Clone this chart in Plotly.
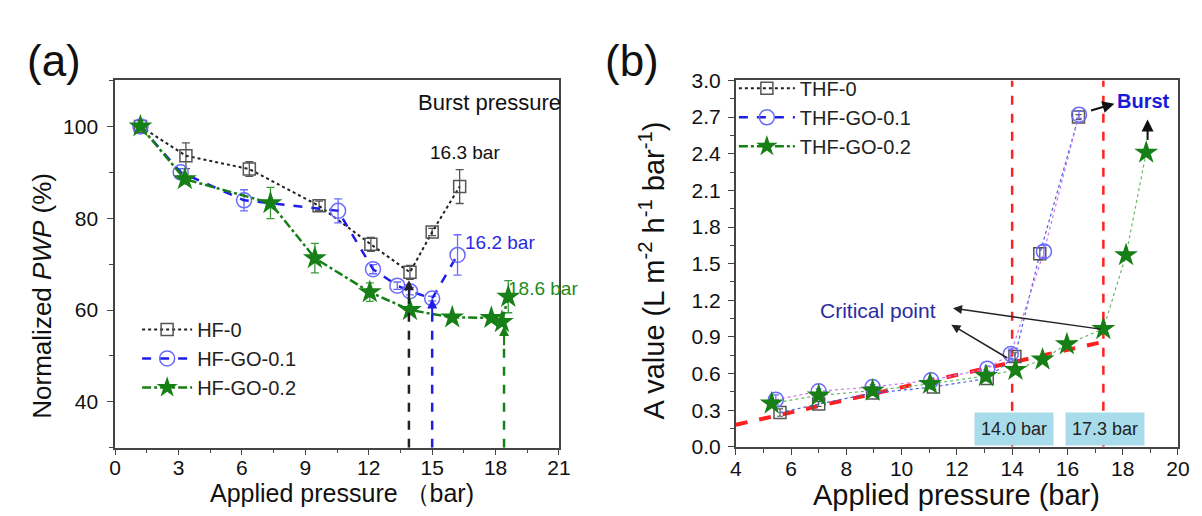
import plotly.graph_objects as go

FONT = "Liberation Sans, Arial, sans-serif"

# ---------------- Panel (a) data ----------------
a_hf0_x = [1.2, 3.35, 6.35, 9.65, 12.1, 13.95, 15.0, 16.3]
a_hf0_y = [100, 93.6, 90.7, 82.7, 74.3, 68.2, 77.0, 86.9]
a_hf0_e = [0, 2.8, 1.6, 1.0, 1.5, 1.5, 0.8, 3.7]

a_go1_x = [1.2, 3.1, 6.1, 10.55, 12.2, 13.35, 13.95, 15.0, 16.2]
a_go1_y = [100, 90.0, 83.9, 81.6, 68.9, 65.3, 64.1, 62.5, 72.0]
a_go1_e = [0, 0.8, 2.3, 2.6, 1.0, 0.8, 0.8, 0.5, 4.4]

a_go2_x = [1.2, 3.3, 7.35, 9.45, 12.05, 13.95, 15.95, 17.8, 18.3, 18.6]
a_go2_y = [100, 88.5, 83.3, 71.3, 63.9, 60.0, 58.4, 58.3, 57.4, 62.9]
a_go2_e = [0, 1.0, 3.4, 3.2, 2.0, 0.5, 0.5, 0.5, 0.5, 3.5]

a_names = ["HF-0", "HF-GO-0.1", "HF-GO-0.2"]
burst_x = [13.9, 15.0, 18.4]           # vertical dashed markers
burst_top = [63, 59, 53]
burst_labels = ["16.3 bar", "16.2 bar", "18.6 bar"]

# ---------------- Panel (b) data ----------------
b_thf0_x = [5.6, 7.0, 8.95, 11.15, 13.1, 14.1, 15.0, 16.4]
b_thf0_y = [0.28, 0.35, 0.44, 0.49, 0.56, 0.74, 1.58, 2.70]
b_thf0_e = [0.03, 0.02, 0.02, 0.02, 0.02, 0.03, 0.05, 0.02]

b_go1_x = [5.45, 7.0, 8.95, 11.07, 13.1, 13.95, 15.15, 16.42]
b_go1_y = [0.385, 0.455, 0.49, 0.545, 0.64, 0.76, 1.60, 2.72]
b_go1_e = [0.04, 0.02, 0.02, 0.02, 0.02, 0.04, 0.05, 0.03]

b_go2_x = [5.3, 7.0, 8.95, 11.03, 13.05, 14.12, 15.1, 15.98, 17.3, 18.12, 18.85]
b_go2_y = [0.355, 0.42, 0.46, 0.515, 0.58, 0.63, 0.715, 0.84, 0.965, 1.57, 2.41]

b_names = ["THF-0", "THF-GO-0.1", "THF-GO-0.2"]
fit_x = [4.0, 17.3]
fit_y = [0.18, 0.86]
crit_x = [14.0, 17.3]
crit_labels = ["14.0 bar", "17.3 bar"]

BLACK = "#222222"
GRAY = "#555555"
BLUE = "#1e1ee6"
LBLUE = "#6a6aff"
GREEN = "#168016"

fig = go.Figure()

# ---- panel (a) traces ----
fig.add_trace(go.Scatter(
    x=a_hf0_x, y=a_hf0_y, name=a_names[0], xaxis="x", yaxis="y",
    mode="lines+markers", legend="legend", legendgroup="a0",
    line=dict(color=BLACK, dash="dot", width=2),
    marker=dict(symbol="square-open", size=12, color=GRAY, line=dict(width=1.5)),
    error_y=dict(type="data", array=a_hf0_e, color=GRAY, thickness=1.3, width=4)))
fig.add_trace(go.Scatter(
    x=a_go1_x, y=a_go1_y, name=a_names[1], xaxis="x", yaxis="y",
    mode="lines+markers", legend="legend", legendgroup="a1",
    line=dict(color=BLUE, dash="dash", width=2.5),
    marker=dict(symbol="circle-open", size=15, color=LBLUE, line=dict(width=1.5)),
    error_y=dict(type="data", array=a_go1_e, color=LBLUE, thickness=1.3, width=4)))
fig.add_trace(go.Scatter(
    x=a_go2_x, y=a_go2_y, name=a_names[2], xaxis="x", yaxis="y",
    mode="lines+markers", legend="legend", legendgroup="a2",
    line=dict(color=GREEN, dash="dashdot", width=2.5),
    marker=dict(symbol="star", size=18, color=GREEN, line=dict(width=0)),
    error_y=dict(type="data", array=a_go2_e, color="#3a9a3a", thickness=1.3, width=4)))

# burst dashed vertical lines (a)
for bx, bt, col in zip(burst_x, burst_top, [BLACK, BLUE, GREEN]):
    fig.add_trace(go.Scatter(x=[bx, bx], y=[30, bt], xaxis="x", yaxis="y",
                             mode="lines", showlegend=False, hoverinfo="skip",
                             line=dict(color=col, dash="dash", width=2.5)))

# ---- panel (b) traces ----
fig.add_trace(go.Scatter(
    x=fit_x, y=fit_y, xaxis="x2", yaxis="y2", mode="lines", showlegend=False,
    line=dict(color="#ff1f1f", dash="dash", width=4)))
for cx in crit_x:
    fig.add_trace(go.Scatter(x=[cx, cx], y=[0, 3.0], xaxis="x2", yaxis="y2",
                             mode="lines", showlegend=False, hoverinfo="skip",
                             line=dict(color="#ff2020", dash="dash", width=2.5)))

fig.add_trace(go.Scatter(
    x=b_thf0_x, y=b_thf0_y, xaxis="x2", yaxis="y2", mode="lines+markers", showlegend=False,
    line=dict(color="#4a5ee0", dash="dot", width=1.2),
    marker=dict(symbol="square-open", size=12, color=GRAY, line=dict(width=1.5)),
    error_y=dict(type="data", array=b_thf0_e, color=GRAY, thickness=1.2, width=3)))
fig.add_trace(go.Scatter(
    x=b_go1_x, y=b_go1_y, xaxis="x2", yaxis="y2", mode="lines+markers", showlegend=False,
    line=dict(color="#cc77ee", dash="dot", width=1.2),
    marker=dict(symbol="circle-open", size=15, color=LBLUE, line=dict(width=1.5)),
    error_y=dict(type="data", array=b_go1_e, color=LBLUE, thickness=1.2, width=3)))
fig.add_trace(go.Scatter(
    x=b_go2_x, y=b_go2_y, xaxis="x2", yaxis="y2", mode="lines+markers", showlegend=False,
    line=dict(color="#66bb66", dash="dot", width=1.2),
    marker=dict(symbol="star", size=18, color=GREEN, line=dict(width=0))))

# legend-only entries for (b)
leg_styles = [
    (dict(color=BLACK, dash="dot", width=2), dict(symbol="square-open", size=12, color=GRAY, line=dict(width=1.5))),
    (dict(color=BLUE, dash="dash", width=2.5), dict(symbol="circle-open", size=15, color=LBLUE, line=dict(width=1.5))),
    (dict(color=GREEN, dash="dashdot", width=2.5), dict(symbol="star", size=18, color=GREEN, line=dict(width=0))),
]
for i, (nm, (ln, mk)) in enumerate(zip(b_names, leg_styles)):
    fig.add_trace(go.Scatter(x=[None], y=[None], xaxis="x2", yaxis="y2", name=nm,
                             mode="lines+markers", line=ln, marker=mk,
                             legend="legend2", legendgroup="b%d" % i))

axis_common = dict(showline=True, mirror=True, linecolor="#444444", linewidth=1.5,
                   ticks="outside", ticklen=6, tickwidth=1.3, tickcolor="#444444",
                   showgrid=False, zeroline=False,
                   tickfont=dict(family=FONT, size=21, color="#111111"))

fig.update_layout(
    width=1202, height=516, margin=dict(l=0, r=0, t=0, b=0),
    paper_bgcolor="white", plot_bgcolor="white",
    font=dict(family=FONT, color="#111111"),
    xaxis=dict(domain=[0.0854, 0.4603], range=[0, 21], tickmode="linear", tick0=0, dtick=3,
               minor=dict(ticks="outside", ticklen=4, dtick=1.5, tickcolor="#444444"),
               ticklabelstandoff=-6, anchor="y", **axis_common),
    yaxis=dict(domain=[0.1324, 0.8773], range=[30, 110], tickmode="linear", tick0=0, dtick=20,
               minor=dict(ticks="outside", ticklen=4, dtick=10, tickcolor="#444444"),
               ticklabelstandoff=5, anchor="x", **axis_common),
    xaxis2=dict(domain=[0.6096, 0.9831], range=[4, 20], tickmode="linear", tick0=0, dtick=2,
                minor=dict(ticks="outside", ticklen=4, dtick=1, tickcolor="#444444"),
                ticklabelstandoff=-4, anchor="y2", **axis_common),
    yaxis2=dict(domain=[0.1343, 0.8773], range=[0, 3.0], tickmode="linear", tick0=0, dtick=0.3,
                tickformat=".1f",
                minor=dict(ticks="outside", ticklen=4, dtick=0.15, tickcolor="#444444"),
                ticklabelstandoff=3, anchor="x2", **axis_common),
    legend=dict(x=0.104, y=0.412, xanchor="left", yanchor="top", bgcolor="rgba(0,0,0,0)",
                font=dict(family=FONT, size=20, color="#222222"), tracegroupgap=0,
                traceorder="grouped", itemwidth=50),
    legend2=dict(x=0.608, y=0.901, xanchor="left", yanchor="top", bgcolor="rgba(0,0,0,0)",
                 font=dict(family=FONT, size=20, color="#222222"), tracegroupgap=0,
                 traceorder="grouped", itemwidth=56),
    showlegend=True,
)

ann = []


def centered(**kw):
    kw.setdefault("xanchor", "center")
    kw.setdefault("yanchor", "middle")
    kw.setdefault("showarrow", False)
    return kw


# panel labels
ann.append(centered(text="(a)", x=41 / 1202, y=1 - 42 / 516, xref="paper", yref="paper",
                    font=dict(size=44, family=FONT, color="#111")))
ann.append(centered(text="(b)", x=627 / 1202, y=1 - 42 / 516, xref="paper", yref="paper",
                    font=dict(size=44, family=FONT, color="#111")))
# axis titles
ann.append(centered(text="Normalized <i>PWP</i> (%)", x=29 / 1202, y=1 - 289 / 516, xref="paper",
                    yref="paper", textangle=-90, font=dict(size=26, family=FONT, color="#111")))
ann.append(centered(text="Applied pressure （bar)", x=333 / 1202, y=1 - 495 / 516, xref="paper",
                    yref="paper", font=dict(size=25, family=FONT, color="#111")))
ann.append(centered(text="A value (L m<sup>-2</sup> h<sup>-1</sup> bar<sup>-1</sup>)", x=648 / 1202,
                    y=1 - 262 / 516, xref="paper", yref="paper", textangle=-90,
                    font=dict(size=29, family=FONT, color="#111")))
ann.append(centered(text="Applied pressure (bar)", x=957 / 1202, y=1 - 497 / 516, xref="paper",
                    yref="paper", font=dict(size=29, family=FONT, color="#111")))

# panel (a) annotations
ann.append(centered(text="Burst pressure", x=17.7, y=105.3, xref="x", yref="y",
                    font=dict(size=22, family=FONT, color="#111")))
ann.append(centered(text=burst_labels[0], x=16.55, y=94.4, xref="x", yref="y",
                    font=dict(size=19, family=FONT, color="#111")))
ann.append(centered(text=burst_labels[1], x=18.2, y=74.8, xref="x", yref="y",
                    font=dict(size=19, family=FONT, color="#2a2ae0")))
ann.append(centered(text=burst_labels[2], x=20.25, y=64.6, xref="x", yref="y",
                    font=dict(size=19, family=FONT, color="#1f8a1f")))
for bx, bt, col in zip(burst_x, burst_top, [BLACK, BLUE, GREEN]):
    ann.append(dict(text="", x=bx, y=bt + 3.5, ax=bx, ay=bt - 1, xref="x", yref="y",
                    axref="x", ayref="y", showarrow=True, arrowhead=2, arrowsize=1,
                    arrowwidth=2, arrowcolor=col, standoff=0))

# panel (b) annotations
ann.append(centered(text="Critical point", x=9.16, y=1.12, xref="x2", yref="y2",
                    font=dict(size=21, family=FONT, color="#2b2ba0")))
ann.append(dict(text="", x=11.86, y=1.135, ax=17.25, ay=0.962, xref="x2", yref="y2",
                axref="x2", ayref="y2", showarrow=True, arrowhead=2, arrowsize=1.2,
                arrowwidth=1.5, arrowcolor="#222", standoff=0))
ann.append(dict(text="", x=11.8, y=1.0, ax=13.88, ay=0.72, xref="x2", yref="y2",
                axref="x2", ayref="y2", showarrow=True, arrowhead=2, arrowsize=1.2,
                arrowwidth=1.5, arrowcolor="#222", standoff=0))
ann.append(centered(text="<b>Burst</b>", x=18.77, y=2.83, xref="x2", yref="y2",
                    font=dict(size=20, family=FONT, color="#1a1adc")))
ann.append(dict(text="", x=17.7, y=2.81, ax=16.8, ay=2.75, xref="x2", yref="y2",
                axref="x2", ayref="y2", showarrow=True, arrowhead=2, arrowsize=1.2,
                arrowwidth=2, arrowcolor="#111", standoff=0))
ann.append(dict(text="", x=18.9, y=2.68, ax=18.9, ay=2.5, xref="x2", yref="y2",
                axref="x2", ayref="y2", showarrow=True, arrowhead=2, arrowsize=1.2,
                arrowwidth=2, arrowcolor="#111", standoff=0))
for cx, lab in zip(crit_x, crit_labels):
    ann.append(centered(text=lab, x=cx + 0.05, y=0.145, xref="x2", yref="y2",
                        font=dict(size=18, family=FONT, color="#222"), bgcolor="#a9dcea",
                        borderpad=6))

fig.update_layout(annotations=ann)
fig.write_html("out.html")
